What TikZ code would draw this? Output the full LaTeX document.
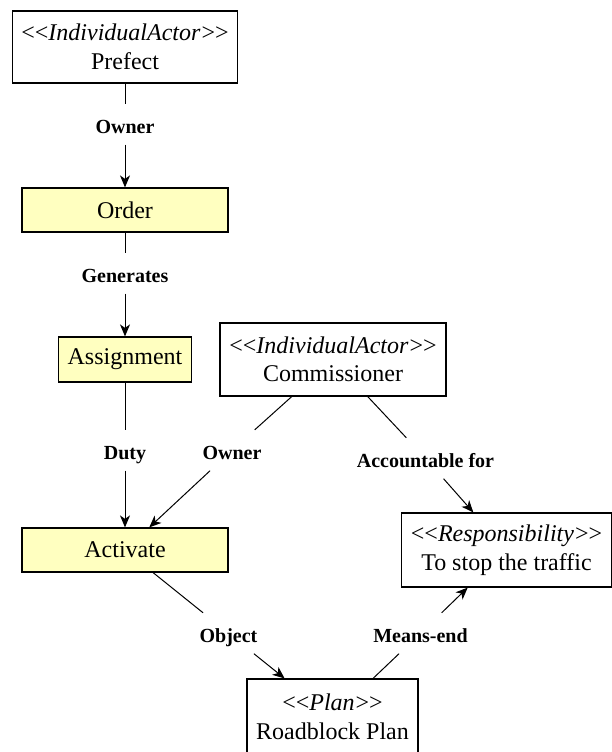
\documentclass[tikz,border=0pt]{standalone}
\usepackage{fontspec}
\setmainfont{Liberation Serif}
\usetikzlibrary{arrows.meta}
% stereotype line: <<Name>> with the name in italics (kerns keep << and >> as plain characters)
\newcommand\stereo[1]{<\kern0pt<\textit{#1}\kern1pt>\kern0pt>}
\definecolor{taskfill}{HTML}{FFFFC0}
\begin{document}
\begin{tikzpicture}[x=1pt,y=-1pt,
  box/.style={draw=black,line width=1.2pt,fill=white,inner sep=0pt,align=center,
    font=\rmfamily\fontsize{24}{28.5}\selectfont},
  taskbox/.style={box,fill=taskfill},
  rel/.style={font=\rmfamily\bfseries\fontsize{20}{24}\selectfont,inner sep=0pt,
    text height=29pt,text depth=11.5pt,anchor=base},
  link/.style={line width=1pt},
  arr/.style={link,-{Stealth[length=12pt,width=10pt,inset=3.5pt]}}]
\useasboundingbox (0,0) rectangle (612,752);

% elements
\node[box,minimum width=225pt,minimum height=72pt] (prefect) at (125,47)
  {\stereo{IndividualActor}\\Prefect};
\node[taskbox,minimum width=206pt,minimum height=44pt] (order) at (125,210) {Order};
\node[taskbox,minimum width=133pt,minimum height=45pt] (assign) at (125,359.5) {Assignment};
\node[box,minimum width=226pt,minimum height=73pt] (comm) at (333,359.5)
  {\stereo{IndividualActor}\\Commissioner};
\node[taskbox,minimum width=206pt,minimum height=44pt] (act) at (125,550) {Activate};
\node[box,minimum width=210pt,minimum height=74pt] (resp) at (506.5,550)
  {\stereo{Responsibility}\\To stop the traffic};
\node[box,minimum width=171pt,minimum height=76pt] (plan) at (332.5,717)
  {\stereo{Plan}\\Roadblock Plan};

% relation labels
\node[rel] (lowner1) at (125,133) {Owner};
\node[rel] (lgen) at (125,282) {Generates};
\node[rel] (lduty) at (125,459) {Duty};
\node[rel] (lowner2) at (232,459) {Owner};
\node[rel] (lacc) at (425.5,467) {Accountable for};
\node[rel] (lobj) at (228.5,642) {Object};
\node[rel] (lmeans) at (420.5,642) {Means-end};

% relations
\draw[link] (prefect) -- (lowner1);  \draw[arr] (lowner1) -- (order);
\draw[link] (order) -- (lgen);       \draw[arr] (lgen) -- (assign);
\draw[link] (assign) -- (lduty);     \draw[arr] (lduty) -- (act);
\draw[link] (comm) -- (lowner2);     \draw[arr] (lowner2) -- (act);
\draw[link] (comm) -- (lacc);        \draw[arr] (lacc) -- (resp);
\draw[link] (act) -- (lobj);         \draw[arr] (lobj) -- (plan);
\draw[link] (plan) -- (lmeans);      \draw[arr] (lmeans) -- (resp);
\end{tikzpicture}
\end{document}
